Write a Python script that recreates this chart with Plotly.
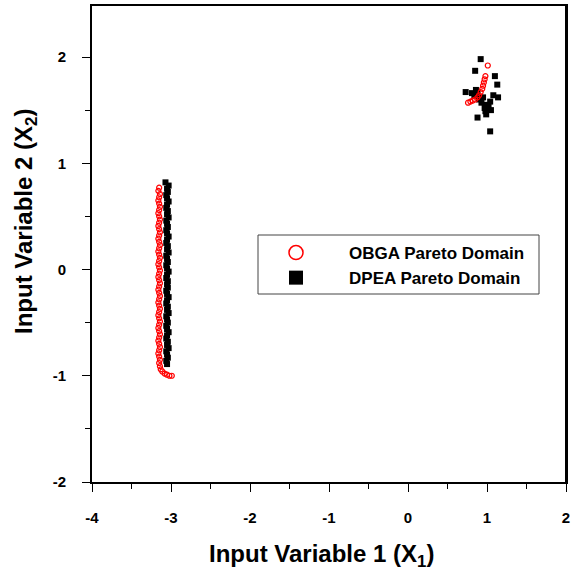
import plotly.graph_objects as go

# OBGA Pareto domain (red open circles)
obga_x = [-3.15, -3.16, -3.14, -3.15, -3.16, -3.15, -3.14, -3.15, -3.16, -3.15,
          -3.14, -3.15, -3.16, -3.15, -3.14, -3.15, -3.16, -3.15, -3.14, -3.15,
          -3.16, -3.15, -3.14, -3.15, -3.16, -3.15, -3.14, -3.15, -3.16, -3.15,
          -3.14, -3.15, -3.16, -3.15, -3.14, -3.15, -3.16, -3.15, -3.14, -3.15,
          -3.16, -3.15, -3.14, -3.15, -3.16, -3.15, -3.14, -3.15, -3.16, -3.15,
          -3.14, -3.15, -3.16, -3.15, -3.14, -3.15, -3.14,
          -3.13, -3.11, -3.08, -3.05, -3.02, -2.99,
          0.76, 0.79, 0.82, 0.85, 0.88, 0.90, 0.92, 0.94, 0.95, 0.96, 0.97, 0.98, 1.01]
obga_y = [0.77, 0.74, 0.71, 0.68, 0.65, 0.62, 0.59, 0.56, 0.53, 0.50,
          0.47, 0.44, 0.41, 0.38, 0.35, 0.32, 0.29, 0.26, 0.23, 0.20,
          0.17, 0.14, 0.11, 0.08, 0.05, 0.02, -0.01, -0.04, -0.07, -0.10,
          -0.13, -0.16, -0.19, -0.22, -0.25, -0.28, -0.31, -0.34, -0.37, -0.40,
          -0.43, -0.46, -0.49, -0.52, -0.55, -0.58, -0.61, -0.64, -0.67, -0.70,
          -0.73, -0.76, -0.79, -0.82, -0.85, -0.88, -0.91,
          -0.94, -0.96, -0.98, -0.99, -1.0, -1.0,
          1.57, 1.58, 1.59, 1.60, 1.62, 1.64, 1.67, 1.70, 1.73, 1.76, 1.79, 1.82, 1.92]

# DPEA Pareto domain (black squares)
dpea_x = [-3.07, -3.03, -3.05, -3.04, -3.06, -3.05, -3.03, -3.05, -3.06, -3.04,
          -3.05, -3.03, -3.06, -3.05, -3.04, -3.06, -3.05, -3.03, -3.05, -3.06,
          -3.04, -3.05, -3.03, -3.06, -3.05, -3.04, -3.06, -3.05, -3.03, -3.05,
          -3.06, -3.04, -3.05, -3.04, -3.06, -3.05, -3.03, -3.05, -3.06, -3.04,
          -3.05, -3.03, -3.06, -3.05, -3.04, -3.06, -3.05, -3.03, -3.05, -3.06,
          -3.04, -3.05, -3.03, -3.06, -3.05, -3.04, -3.06, -3.05,
          0.92, 0.85, 1.10, 1.13, 0.73, 0.86, 0.84, 0.88, 0.91, 0.95, 1.08, 1.14,
          1.04, 1.00, 0.97, 1.05, 0.99, 0.88, 1.04, 0.93, 0.81, 0.90, 0.98, 1.02]
dpea_y = [0.82, 0.79, 0.76, 0.73, 0.70, 0.67, 0.64, 0.61, 0.58, 0.55,
          0.52, 0.49, 0.46, 0.43, 0.40, 0.37, 0.34, 0.31, 0.28, 0.25,
          0.22, 0.19, 0.16, 0.13, 0.10, 0.07, 0.04, 0.01, -0.02, -0.05,
          -0.08, -0.11, -0.14, -0.17, -0.20, -0.23, -0.26, -0.29, -0.32, -0.35,
          -0.38, -0.41, -0.44, -0.47, -0.50, -0.53, -0.56, -0.59, -0.62, -0.65,
          -0.68, -0.71, -0.74, -0.77, -0.80, -0.83, -0.86, -0.89,
          1.98, 1.87, 1.82, 1.74, 1.67, 1.69, 1.64, 1.66, 1.62, 1.62, 1.64, 1.62,
          1.58, 1.55, 1.52, 1.50, 1.46, 1.43, 1.30, 1.57, 1.66, 1.60, 1.49, 1.53]

x_ticks = [-4, -3, -2, -1, 0, 1, 2]
x_ticktext = ["-4", "-3", "-2", "-1", "0", "1", "2"]
y_ticks = [-2, -1, 0, 1, 2]
y_ticktext = ["-2", "-1", "0", "1", "2"]

NB = "\u00a0" * 7
FONT = "Liberation Sans, Arial, sans-serif"

L, R, T, B = 92, 566, 6, 482
PW, PH = R - L, B - T

fig = go.Figure()
fig.add_trace(go.Scatter(
    x=dpea_x, y=dpea_y, mode="markers", name="DPEA Pareto Domain",
    marker=dict(symbol="square", size=6, color="black"), showlegend=False))
fig.add_trace(go.Scatter(
    x=obga_x, y=obga_y, mode="markers", name="OBGA Pareto Domain",
    marker=dict(symbol="circle-open", size=5, color="red", line=dict(width=1.2)),
    showlegend=False))
# legend entries
fig.add_trace(go.Scatter(
    x=[None], y=[None], mode="markers", name=NB + "OBGA Pareto Domain",
    marker=dict(symbol="circle-open", size=14, color="red", line=dict(width=1.5))))
fig.add_trace(go.Scatter(
    x=[None], y=[None], mode="markers", name=NB + "DPEA Pareto Domain",
    marker=dict(symbol="square", size=14, color="black")))

axis_common = dict(
    showline=True, linecolor="black", linewidth=2, mirror=True,
    ticks="outside", ticklen=8, tickwidth=1, tickcolor="black",
    showgrid=False, zeroline=False, automargin=False, ticklabeloverflow="allow",
    tickfont=dict(family=FONT, size=15, color="black", weight="bold"),
    minor=dict(ticks="outside", ticklen=5, tickwidth=1, tickcolor="black", dtick=0.5),
)

fig.update_layout(
    width=571, height=573,
    margin=dict(l=L, r=571 - R, t=T, b=573 - B),
    paper_bgcolor="white", plot_bgcolor="white",
    font=dict(family=FONT, color="black"),
    xaxis=dict(range=[-4, 2], tickvals=x_ticks, ticktext=x_ticktext,
               ticklabelstandoff=13, **axis_common),
    yaxis=dict(range=[-2, 2.48], tickvals=y_ticks, ticktext=y_ticktext,
               ticklabelstandoff=13, **axis_common),
    legend=dict(x=(276 - L) / PW, y=(B - 235) / PH, xanchor="left", yanchor="top",
                bgcolor="rgba(0,0,0,0)", borderwidth=0, tracegroupgap=0,
                font=dict(family=FONT, size=17, color="black", weight="bold")),
    shapes=[
        dict(type="rect", xref="paper", yref="paper",
             x0=(258 - L) / PW, x1=(539 - L) / PW,
             y0=(B - 294) / PH, y1=(B - 235) / PH,
             line=dict(color="#444", width=1), fillcolor="rgba(0,0,0,0)"),
        dict(type="line", xref="paper", yref="paper", x0=1, x1=1, y0=0, y1=1,
             line=dict(color="black", width=2)),
    ],
    annotations=[
        dict(text="Input Variable 1 (X<sub>1</sub>)", xref="paper", yref="paper",
             x=(321 - L) / PW, y=(B - 555) / PH, xanchor="center", yanchor="middle",
             showarrow=False,
             font=dict(family=FONT, size=24, color="black", weight="bold")),
        dict(text="Input Variable 2 (X<sub>2</sub>)", xref="paper", yref="paper",
             x=(25 - L) / PW, y=(B - 222) / PH, xanchor="center", yanchor="middle",
             textangle=-90, showarrow=False,
             font=dict(family=FONT, size=24, color="black", weight="bold")),
    ],
)

fig.write_html(
    "out.html",
    config={"displayModeBar": False},
    post_script="document.body.style.margin='0';document.body.style.overflow='hidden';",
)
